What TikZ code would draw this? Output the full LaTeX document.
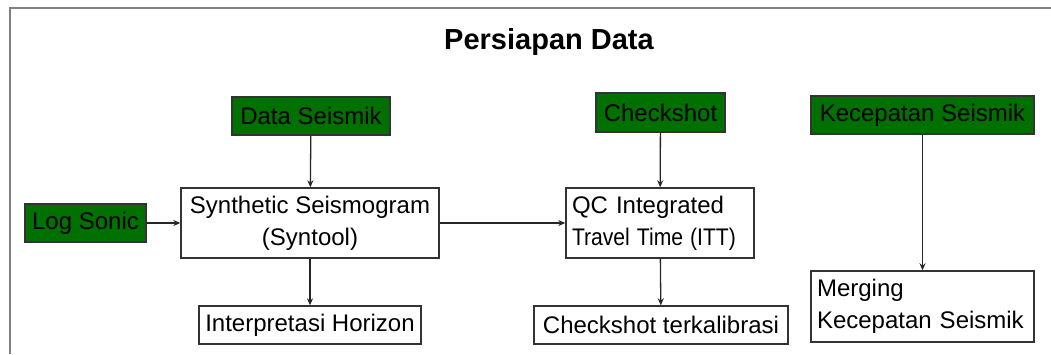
\documentclass[tikz,border=0pt]{standalone}
\usepackage{fontspec}
\setmainfont{Liberation Sans}
\usetikzlibrary{arrows.meta}
\definecolor{boxgreen}{RGB}{0,112,0}
\definecolor{frame}{RGB}{128,128,128}
\tikzset{
  box/.style={draw=black!80, line width=1.4pt, fill=white, inner sep=0pt, minimum height=38pt, font=\fontsize{24}{32}\selectfont},
  src/.style={box, fill=boxgreen},
  conn/.style={draw=black!85, line width=1.3pt, -{Stealth[length=7pt,width=6pt]}},
}
\begin{document}
\begin{tikzpicture}[x=1pt,y=-1pt]
\useasboundingbox (0,0) rectangle (1051,354);
\draw[frame, line width=2pt] (10,354) -- (10,8) -- (1051,8);
\node[font=\bfseries\fontsize{29}{32}\selectfont] (title) at (549,42) {Persiapan Data};
\node[src, minimum width=158pt] (ds) at (311,116) {Data Seismik};
\node[src, minimum width=121pt] (ls) at (85.5,223) {Log Sonic};
\node[box, minimum width=258pt, minimum height=70pt, align=center] (syn) at (310,223) {Synthetic Seismogram\\(Syntool)};
\node[box, minimum width=222pt] (ih) at (310,325) {Interpretasi Horizon};
\node[src, minimum width=129pt, minimum height=39pt] (cs) at (660.5,112.5) {Checkshot};
\node[box, minimum width=188pt, minimum height=70pt, text width=176pt, align=left] (qc) at (660,223) {QC Integrated\\\scalebox{0.88}[1]{Travel Time (ITT)}};
\node[box, minimum width=254pt] (ck) at (661,325) {Checkshot terkalibrasi};
\node[src, minimum width=223pt] (ks) at (922.5,115) {Kecepatan Seismik};
\node[box, minimum width=223pt, minimum height=71pt, text width=211pt, align=left] (mg) at (922.5,306.5) {Merging\\Kecepatan Seismik};
\draw[conn] (ds) -- (syn);
\draw[conn] (ls) -- (syn);
\draw[conn] (syn) -- (ih);
\draw[conn] (syn) -- (qc);
\draw[conn] (cs) -- (qc);
\draw[conn] (qc) -- (ck);
\draw[conn] (ks) -- (mg);
\end{tikzpicture}
\end{document}
